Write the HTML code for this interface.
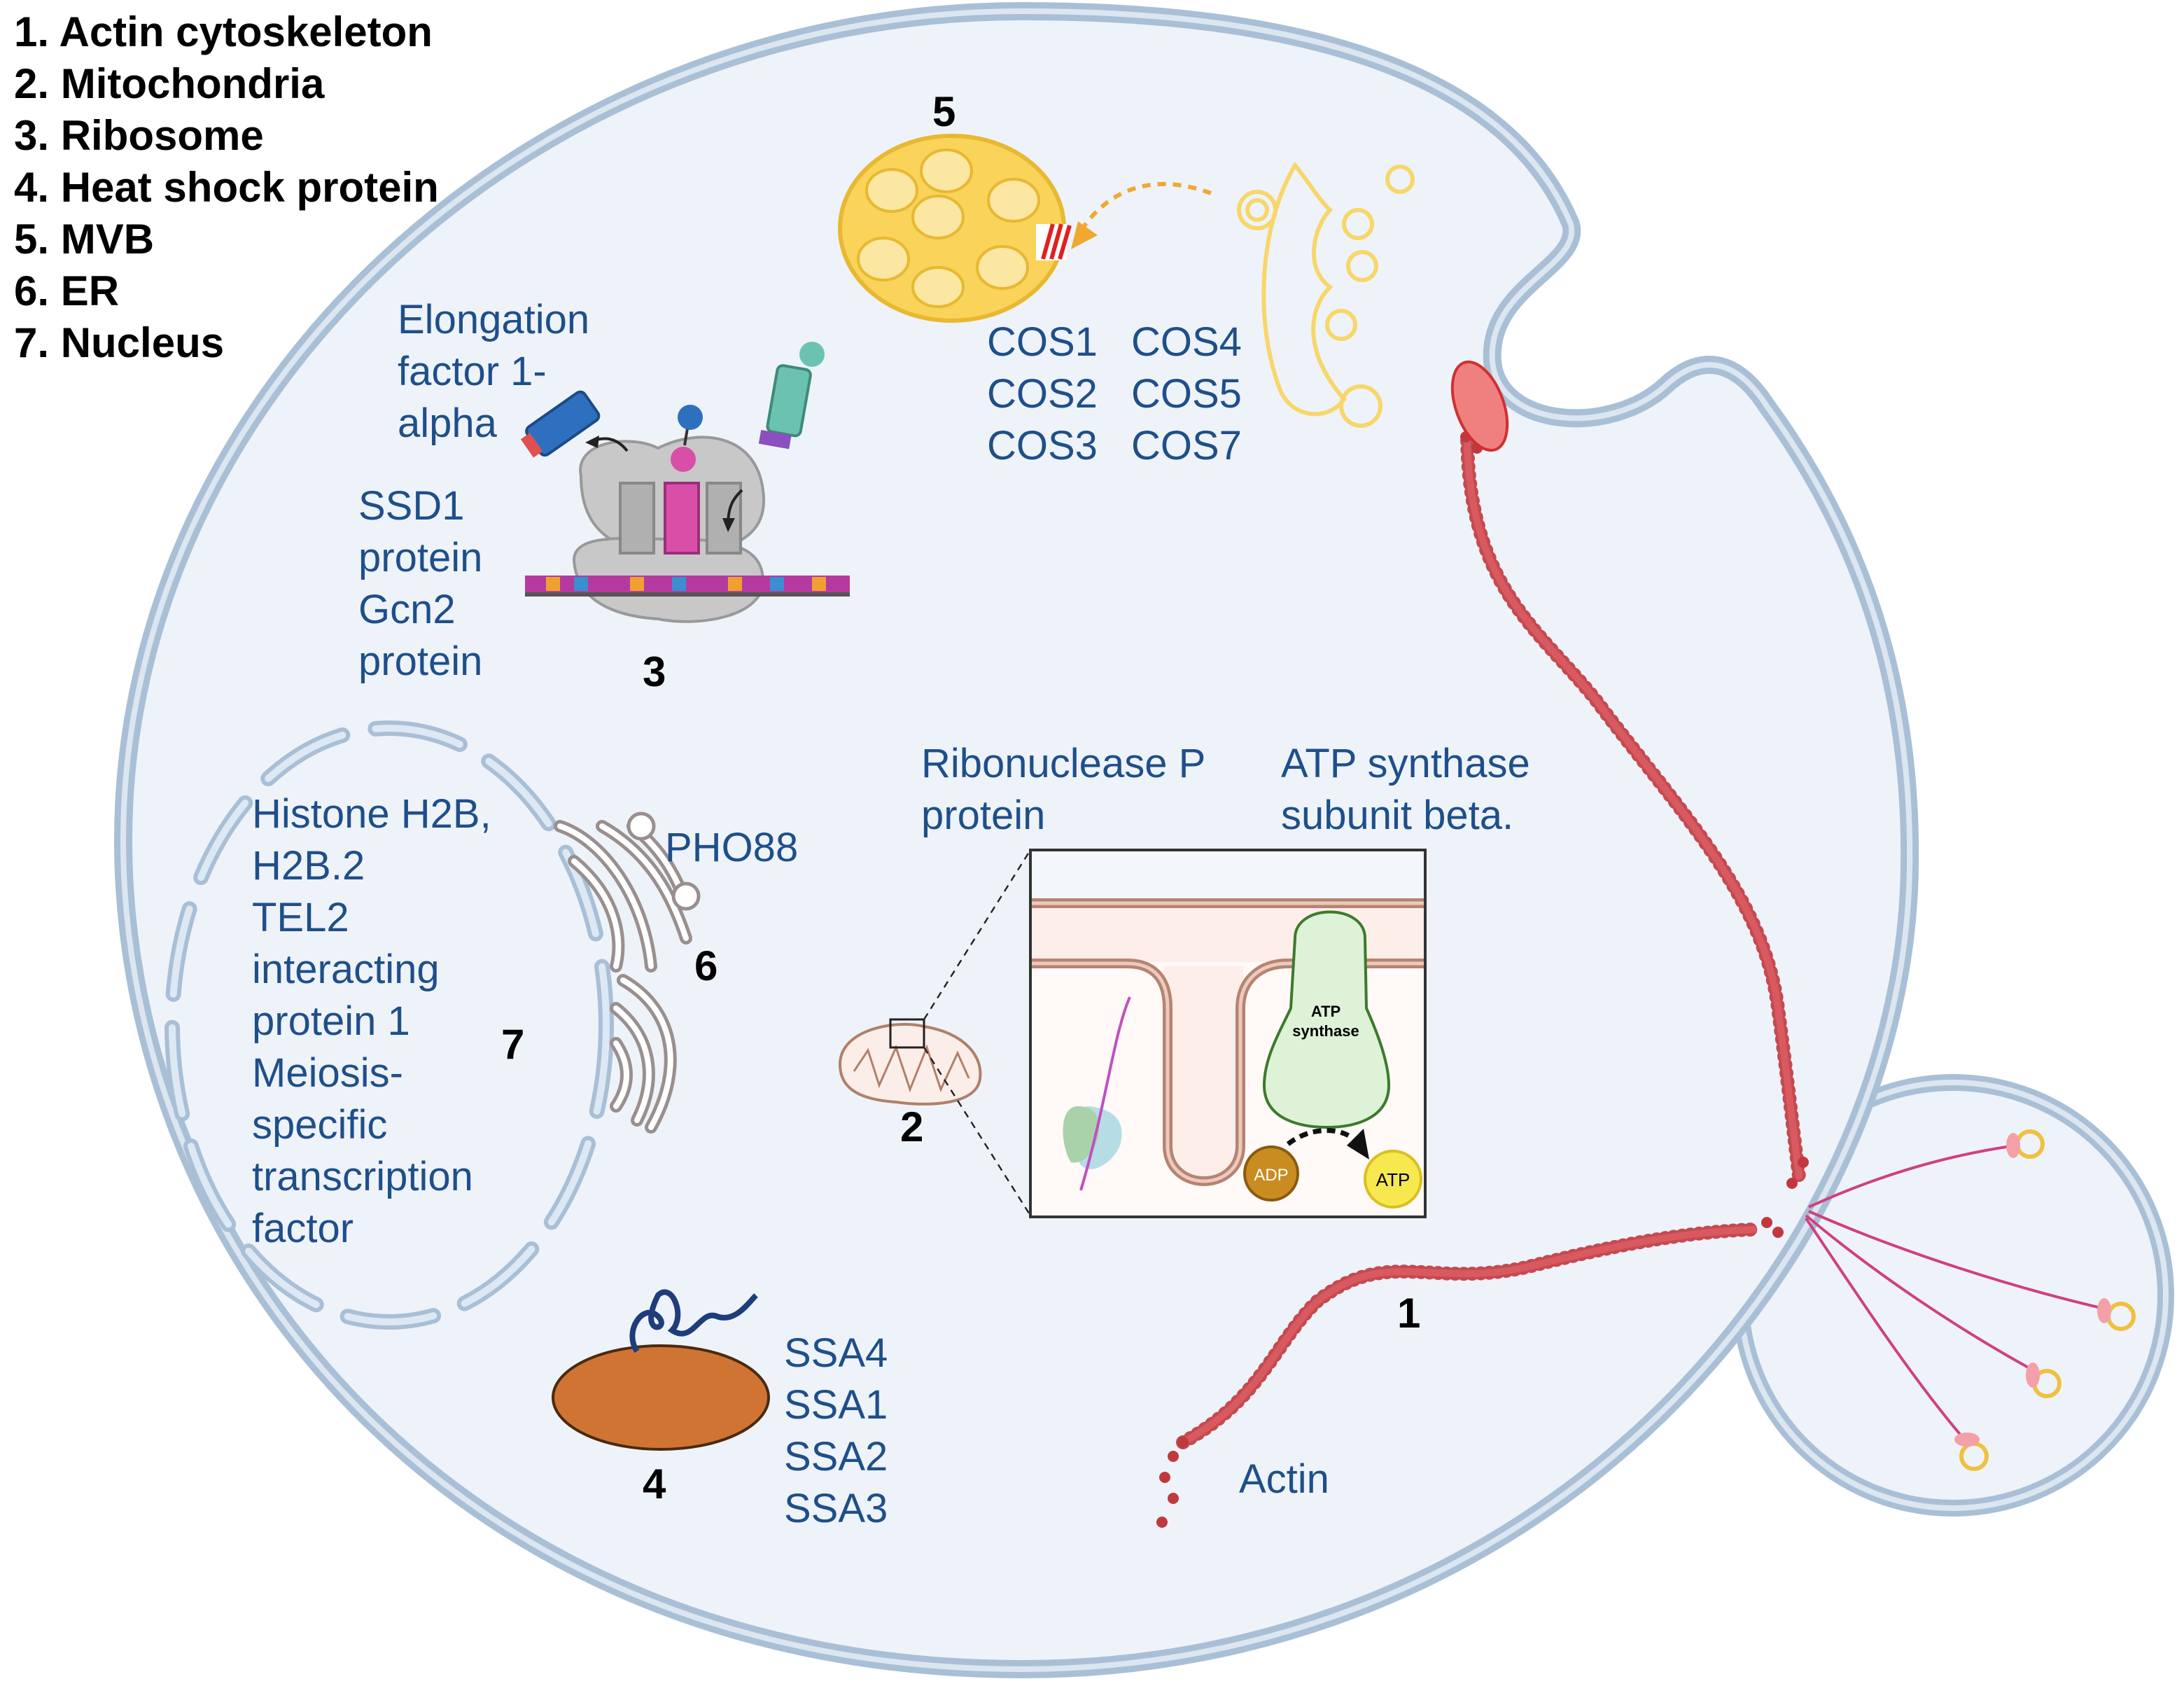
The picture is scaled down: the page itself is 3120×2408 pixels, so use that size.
<!DOCTYPE html>
<html><head><meta charset="utf-8"><style>
html,body{margin:0;padding:0;background:#fff}
svg{display:block}
text{font-family:"Liberation Sans",sans-serif}
.b{fill:#1f4f8a;font-size:29px}
.n{fill:#000;font-size:30px;font-weight:bold}
</style></head><body>
<svg width="3120" height="2408" viewBox="0 0 1560 1204" xmlns="http://www.w3.org/2000/svg">
<rect width="1560" height="1204" fill="#fff"/>
<!-- bud -->
<circle cx="1395" cy="925" r="152" fill="#eef3f9" stroke="#a9bfd6" stroke-width="12"/>
<circle cx="1395" cy="925" r="152" fill="none" stroke="#dbe6f1" stroke-width="4"/>
<!-- cell -->
<path d="M730 8 C950 8 1080 60 1122 160 C1130 190 1062 205 1066 258 C1070 305 1150 312 1190 275 C1215 252 1240 256 1262 290 C1335 390 1366 500 1364 620 C1360 900 1100 1192 730 1192 C330 1192 88 900 88 600 C88 280 380 8 730 8 Z" fill="#eef3f9" stroke="#a9bfd6" stroke-width="13"/>
<path d="M730 8 C950 8 1080 60 1122 160 C1130 190 1062 205 1066 258 C1070 305 1150 312 1190 275 C1215 252 1240 256 1262 290 C1335 390 1366 500 1364 620 C1360 900 1100 1192 730 1192 C330 1192 88 900 88 600 C88 280 380 8 730 8 Z" fill="none" stroke="#dbe6f1" stroke-width="4"/>

<!-- legend -->
<text class="n" x="10" y="33">1.  Actin cytoskeleton</text>
<text class="n" x="10" y="70">2.  Mitochondria</text>
<text class="n" x="10" y="107">3.  Ribosome</text>
<text class="n" x="10" y="144">4.  Heat shock protein</text>
<text class="n" x="10" y="181">5.  MVB</text>
<text class="n" x="10" y="218">6.  ER</text>
<text class="n" x="10" y="255">7.  Nucleus</text>

<!-- MVB -->
<text class="n" x="666" y="90">5</text>
<ellipse cx="680" cy="163" rx="80" ry="66" fill="#f9d35a" stroke="#e8b830" stroke-width="3"/>
<g fill="#fbe6a2" stroke="#e8b830" stroke-width="2">
<ellipse cx="676" cy="122" rx="18" ry="15"/><ellipse cx="637" cy="136" rx="18" ry="15"/>
<ellipse cx="724" cy="143" rx="18" ry="15"/><ellipse cx="670" cy="155" rx="18" ry="15"/>
<ellipse cx="631" cy="185" rx="18" ry="15"/><ellipse cx="670" cy="205" rx="18" ry="14"/>
<ellipse cx="716" cy="191" rx="18" ry="15"/></g>
<rect x="740" y="160" width="22" height="26" fill="#fff"/>
<g stroke="#e02020" stroke-width="3"><line x1="745" y1="185" x2="752" y2="160"/><line x1="751" y1="185" x2="758" y2="160"/><line x1="757" y1="185" x2="764" y2="161"/></g>
<path d="M865 138 C830 125 795 130 772 165" fill="none" stroke="#f0a830" stroke-width="3" stroke-dasharray="6 5"/>
<polygon points="765,178 770,158 784,168" fill="#f0a830"/>
<!-- golgi-like -->
<g fill="none" stroke="#f7d76a" stroke-width="3">
<circle cx="898" cy="150" r="13"/><circle cx="898" cy="150" r="7"/>
<path d="M925 118 C900 160 895 230 915 280 C925 300 950 300 960 285 C930 250 935 220 950 205 C930 190 940 160 950 150 C940 140 935 130 925 118 Z"/>
<circle cx="1000" cy="128" r="9"/><circle cx="970" cy="160" r="10"/><circle cx="973" cy="190" r="10"/>
<circle cx="958" cy="232" r="10"/><circle cx="972" cy="290" r="14"/></g>
<text class="b" x="705" y="254">COS1</text><text class="b" x="808" y="254">COS4</text>
<text class="b" x="705" y="291">COS2</text><text class="b" x="808" y="291">COS5</text>
<text class="b" x="705" y="328">COS3</text><text class="b" x="808" y="328">COS7</text>

<!-- ribosome -->
<text class="b" x="284" y="238">Elongation</text>
<text class="b" x="284" y="275">factor 1-</text>
<text class="b" x="284" y="312">alpha</text>
<text class="b" x="256" y="371">SSD1</text>
<text class="b" x="256" y="408">protein</text>
<text class="b" x="256" y="445">Gcn2</text>
<text class="b" x="256" y="482">protein</text>
<path d="M415 340 C410 315 450 310 470 320 C500 305 540 310 545 350 C550 385 520 395 480 395 C440 395 415 380 415 340 Z" fill="#c8c8c8" stroke="#999" stroke-width="2"/>
<path d="M410 400 C410 380 450 385 480 385 C520 385 545 390 545 415 C545 440 500 448 470 442 C440 440 412 430 410 400 Z" fill="#c8c8c8" stroke="#999" stroke-width="2"/>
<rect x="443" y="345" width="24" height="50" fill="#b0b0b0" stroke="#888" stroke-width="2"/>
<rect x="505" y="345" width="24" height="50" fill="#b0b0b0" stroke="#888" stroke-width="2"/>
<rect x="475" y="345" width="24" height="50" fill="#d94fa8" stroke="#9a2f7a" stroke-width="2"/>
<circle cx="488" cy="328" r="9" fill="#d94fa8"/><line x1="489" y1="318" x2="491" y2="306" stroke="#333" stroke-width="2"/>
<circle cx="493" cy="298" r="9" fill="#2f6fc0"/>
<rect x="375" y="411" width="232" height="12" fill="#b53aa0"/>
<rect x="375" y="423" width="232" height="3" fill="#555"/>
<g fill="#f0a030"><rect x="390" y="412" width="10" height="10"/><rect x="450" y="412" width="10" height="10"/><rect x="520" y="412" width="10" height="10"/><rect x="580" y="412" width="10" height="10"/></g>
<g fill="#3a8fd0"><rect x="410" y="412" width="10" height="10"/><rect x="480" y="412" width="10" height="10"/><rect x="550" y="412" width="10" height="10"/></g>
<g transform="rotate(-35 400 305)"><rect x="378" y="292" width="50" height="24" rx="4" fill="#2f6fc0" stroke="#1d4a88" stroke-width="2"/><rect x="372" y="296" width="8" height="16" fill="#e05050"/></g>
<g transform="rotate(10 562 295)"><rect x="550" y="262" width="24" height="48" rx="4" fill="#6cc2b0" stroke="#3e8a7a" stroke-width="2"/><rect x="546" y="310" width="22" height="10" fill="#8a4fc0"/></g>
<circle cx="580" cy="253" r="9" fill="#6cc2b0"/>
<path d="M448 322 C440 312 432 312 422 315" fill="none" stroke="#222" stroke-width="2"/><polygon points="418,316 428,311 427,320" fill="#222"/>
<path d="M530 350 C525 355 520 360 520 375" fill="none" stroke="#222" stroke-width="2"/><polygon points="520,380 516,370 525,370" fill="#222"/>
<text class="n" x="459" y="490">3</text>

<!-- nucleus -->
<ellipse cx="278" cy="732" rx="155" ry="212" fill="none" stroke="#a9bfd6" stroke-width="11" stroke-dasharray="62 24" stroke-linecap="round"/>
<ellipse cx="278" cy="732" rx="155" ry="212" fill="none" stroke="#dce8f3" stroke-width="5" stroke-dasharray="62 24" stroke-linecap="round"/>
<text class="b" x="180" y="591">Histone H2B,</text>
<text class="b" x="180" y="628">H2B.2</text>
<text class="b" x="180" y="665">TEL2</text>
<text class="b" x="180" y="702">interacting</text>
<text class="b" x="180" y="739">protein 1</text>
<text class="b" x="180" y="776">Meiosis-</text>
<text class="b" x="180" y="813">specific</text>
<text class="b" x="180" y="850">transcription</text>
<text class="b" x="180" y="887">factor</text>
<text class="n" x="358" y="756">7</text>

<!-- ER -->
<g fill="none" stroke="#9a8f8f" stroke-width="9" stroke-linecap="round">
<path d="M400 590 C430 600 460 640 465 690"/><path d="M410 615 C440 640 445 670 440 690"/>
<path d="M430 590 C465 610 480 640 490 670"/><path d="M452 590 C470 605 480 620 488 640"/>
<path d="M445 700 C480 720 490 760 465 805"/><path d="M440 720 C465 740 470 770 455 800"/>
<path d="M440 745 C450 760 450 775 440 790"/></g>
<g fill="none" stroke="#fff" stroke-width="4" stroke-linecap="round">
<path d="M400 590 C430 600 460 640 465 690"/><path d="M410 615 C440 640 445 670 440 690"/>
<path d="M430 590 C465 610 480 640 490 670"/><path d="M452 590 C470 605 480 620 488 640"/>
<path d="M445 700 C480 720 490 760 465 805"/><path d="M440 720 C465 740 470 770 455 800"/>
<path d="M440 745 C450 760 450 775 440 790"/></g>
<circle cx="458" cy="590" r="9" fill="#fff" stroke="#9a8f8f" stroke-width="2.5"/>
<circle cx="490" cy="640" r="9" fill="#fff" stroke="#9a8f8f" stroke-width="2.5"/>
<text class="b" x="475" y="615">PHO88</text>
<text class="n" x="496" y="700">6</text>

<!-- mito -->
<text class="b" x="658" y="555">Ribonuclease P</text>
<text class="b" x="658" y="592">protein</text>
<text class="b" x="915" y="555">ATP synthase</text>
<text class="b" x="915" y="592">subunit beta.</text>
<path d="M600 760 C600 735 640 728 660 733 C690 738 702 755 700 770 C698 790 660 790 640 787 C610 785 600 775 600 760 Z" fill="#fbeee8" stroke="#b0806a" stroke-width="2"/>
<path d="M610 765 L620 750 L628 775 L640 748 L650 778 L662 748 L672 778 L684 752 L692 770" fill="none" stroke="#b0806a" stroke-width="1.5"/>
<rect x="636" y="728" width="24" height="20" fill="none" stroke="#222" stroke-width="1.5"/>
<line x1="660" y1="728" x2="736" y2="607" stroke="#222" stroke-width="1.2" stroke-dasharray="5 4"/>
<line x1="660" y1="748" x2="736" y2="868" stroke="#222" stroke-width="1.2" stroke-dasharray="5 4"/>
<text class="n" x="643" y="815">2</text>
<rect x="736" y="607" width="282" height="262" fill="#fff9f7" stroke="#333" stroke-width="2"/>
<rect x="737" y="608" width="280" height="35" fill="#f3f7fb"/>
<rect x="737" y="643" width="280" height="44" fill="#fdeee9"/>
<path d="M831 690 L831 820 C831 850 888 850 888 820 L888 690 Z" fill="#fdeee9"/>
<g fill="none" stroke="#b58470" stroke-width="7"><line x1="737" y1="645" x2="1017" y2="645"/>
<path d="M737 688 L805 688 C825 688 834 700 834 720 L834 818 C834 852 886 852 886 818 L886 720 C886 700 900 688 920 688 L1017 688"/></g>
<g fill="none" stroke="#eccabd" stroke-width="2.5"><line x1="737" y1="645" x2="1017" y2="645"/>
<path d="M737 688 L805 688 C825 688 834 700 834 720 L834 818 C834 852 886 852 886 818 L886 720 C886 700 900 688 920 688 L1017 688"/></g>
<path d="M925 670 C925 645 975 645 975 670 L976 720 C985 740 992 760 992 775 C992 800 965 805 948 805 C930 805 903 800 903 775 C903 755 915 735 922 720 Z" fill="#def2d8" stroke="#3c7a2c" stroke-width="2"/>
<text x="947" y="726" font-size="11" font-weight="bold" text-anchor="middle">ATP</text>
<text x="947" y="740" font-size="11" font-weight="bold" text-anchor="middle">synthase</text>
<path d="M778 790 C765 790 760 815 772 832 C780 840 795 830 800 818 C805 800 795 792 778 790 Z" fill="#b6dde6"/>
<path d="M770 790 C755 790 758 820 765 830 C775 832 785 820 785 805 C785 795 780 790 770 790 Z" fill="#a9d2a9"/>
<path d="M807 712 C795 740 790 790 772 850" fill="none" stroke="#c050c0" stroke-width="2"/>
<circle cx="908" cy="838" r="19" fill="#c88c20" stroke="#8a5a10" stroke-width="2"/>
<text x="908" y="843" font-size="12" fill="#fff" text-anchor="middle">ADP</text>
<circle cx="995" cy="842" r="20" fill="#f7e850" stroke="#d8c020" stroke-width="2"/>
<text x="995" y="847" font-size="13" text-anchor="middle">ATP</text>
<path d="M920 817 C935 805 955 805 965 812" fill="none" stroke="#111" stroke-width="3.5" stroke-dasharray="6 4"/>
<polygon points="978,828 962,818 974,806" fill="#111"/>

<!-- heat shock -->
<ellipse cx="472" cy="998" rx="77" ry="37" fill="#d07434" stroke="#4a2a10" stroke-width="2"/>
<path d="M455 965 C445 950 460 930 470 940 C480 950 455 955 470 925 C480 915 490 940 480 950 C495 960 500 935 512 940 C525 945 535 930 540 925" fill="none" stroke="#1f3d7a" stroke-width="4"/>
<text class="b" x="560" y="976">SSA4</text>
<text class="b" x="560" y="1013">SSA1</text>
<text class="b" x="560" y="1050">SSA2</text>
<text class="b" x="560" y="1087">SSA3</text>
<text class="n" x="459" y="1070">4</text>

<!-- actin -->
<g fill="none" stroke-linecap="round">
<path d="M1048 315 C1050 420 1100 450 1140 500 C1200 580 1260 640 1270 720 C1278 780 1280 800 1285 840" stroke="#c44a50" stroke-width="10" stroke-dasharray="0.1 6"/>
<path d="M1048 315 C1050 420 1100 450 1140 500 C1200 580 1260 640 1270 720 C1278 780 1280 800 1285 840" stroke="#d85a60" stroke-width="5"/>
<path d="M845 1030 C900 1000 910 960 940 930 C990 890 1020 920 1090 905 C1150 890 1200 880 1252 878" stroke="#c44a50" stroke-width="10" stroke-dasharray="0.1 6"/>
<path d="M845 1030 C900 1000 910 960 940 930 C990 890 1020 920 1090 905 C1150 890 1200 880 1252 878" stroke="#d85a60" stroke-width="5"/>
</g>
<g fill="#c0393f"><circle cx="1047" cy="312" r="4"/><circle cx="1055" cy="320" r="4"/><circle cx="1280" cy="845" r="4"/><circle cx="1288" cy="830" r="4"/><circle cx="1270" cy="880" r="4"/><circle cx="1262" cy="873" r="4"/>
<circle cx="838" cy="1040" r="4"/><circle cx="832" cy="1055" r="4"/><circle cx="838" cy="1070" r="4"/><circle cx="830" cy="1087" r="4"/><circle cx="845" cy="1030" r="4"/></g>
<ellipse cx="1057" cy="290" rx="17" ry="33" transform="rotate(-20 1057 290)" fill="#f08080" stroke="#d03030" stroke-width="2"/>
<text class="n" x="998" y="948">1</text>
<text class="b" x="885" y="1066">Actin</text>
<!-- bud filaments -->
<g stroke="#d04080" stroke-width="2" fill="none">
<path d="M1292 862 C1340 840 1390 825 1440 818"/><path d="M1292 865 C1360 895 1440 920 1505 935"/>
<path d="M1290 868 C1340 910 1400 950 1455 980"/><path d="M1290 870 C1330 930 1370 990 1405 1030"/></g>
<g fill="none" stroke="#f0c040" stroke-width="3"><circle cx="1450" cy="817" r="9"/><circle cx="1515" cy="940" r="9"/><circle cx="1462" cy="988" r="9"/><circle cx="1410" cy="1040" r="9"/></g>
<g fill="#f4a0a8"><ellipse cx="1438" cy="818" rx="5" ry="9"/><ellipse cx="1503" cy="936" rx="5" ry="9"/><ellipse cx="1452" cy="982" rx="5" ry="9"/><ellipse cx="1405" cy="1028" rx="9" ry="5"/></g>
</svg>
</body></html>
